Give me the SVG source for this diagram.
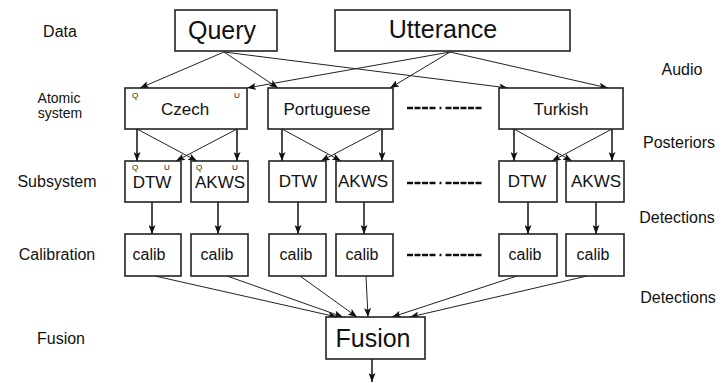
<svg xmlns="http://www.w3.org/2000/svg" width="722" height="383" viewBox="0 0 722 383">
  <defs>
    <marker id="arrow" markerUnits="userSpaceOnUse" markerWidth="9" markerHeight="7" refX="9" refY="3.5" orient="auto">
      <path d="M0,0 L9,3.5 L0,7 L2,3.5 z" fill="#111"/>
    </marker>
    <style>
      .box { fill: #fff; stroke: #222; stroke-width: 1.6; }
      .big { font-family: "Liberation Sans", Arial, sans-serif; font-size: 25px; fill: #111; text-anchor: middle; }
      .mid { font-family: "Liberation Sans", Arial, sans-serif; font-size: 17px; fill: #111; text-anchor: middle; }
      .lab { font-family: "Liberation Sans", Arial, sans-serif; font-size: 16px; fill: #111; text-anchor: middle; }
      .lab2 { font-family: "Liberation Sans", Arial, sans-serif; font-size: 14px; fill: #111; text-anchor: middle; }
      .tiny { font-family: "Liberation Sans", Arial, sans-serif; font-size: 8px; fill: #111; text-anchor: middle; }
      .edge { fill: none; stroke: #222; stroke-width: 1; marker-end: url(#arrow); }
      .vedge { fill: none; stroke: #111; stroke-width: 1.5; marker-end: url(#arrow); }
      .dots { fill: none; stroke: #111; stroke-width: 2.5; }
    </style>
  </defs>

  <!-- level labels, left -->
  <g id="row-labels">
    <text class="lab" x="60" y="37">Data</text>
    <text class="lab2" x="59" y="103">Atomic</text>
    <text class="lab2" x="60" y="118">system</text>
    <text class="lab" x="57" y="187">Subsystem</text>
    <text class="lab" x="57" y="260">Calibration</text>
    <text class="lab" x="61" y="344">Fusion</text>
  </g>

  <!-- signal labels, right -->
  <g id="signal-labels">
    <text class="lab" x="682" y="75">Audio</text>
    <text class="lab" x="679" y="148">Posteriors</text>
    <text class="lab" x="677" y="223">Detections</text>
    <text class="lab" x="678" y="303">Detections</text>
  </g>

  <!-- connectors -->
  <g id="connectors">
    <!-- data to atomic systems -->
    <line class="edge" x1="224" y1="52" x2="140" y2="88"/>
    <line class="edge" x1="224" y1="52" x2="278" y2="88"/>
    <line class="edge" x1="224" y1="52" x2="508" y2="88"/>
    <line class="edge" x1="450" y1="52" x2="247" y2="88"/>
    <line class="edge" x1="450" y1="52" x2="390" y2="88"/>
    <line class="edge" x1="450" y1="52" x2="608" y2="88"/>

    <!-- atomic systems to subsystems -->
    <line class="vedge" x1="137" y1="129" x2="137" y2="161"/>
    <line class="vedge" x1="237" y1="129" x2="237" y2="161"/>
    <line class="edge" x1="137" y1="129" x2="197" y2="161"/>
    <line class="edge" x1="237" y1="129" x2="176" y2="161"/>

    <line class="vedge" x1="282" y1="129" x2="282" y2="161"/>
    <line class="vedge" x1="382" y1="129" x2="382" y2="161"/>
    <line class="edge" x1="282" y1="129" x2="341" y2="161"/>
    <line class="edge" x1="382" y1="129" x2="321" y2="161"/>

    <line class="vedge" x1="514" y1="129" x2="514" y2="161"/>
    <line class="vedge" x1="612" y1="129" x2="612" y2="161"/>
    <line class="edge" x1="514" y1="129" x2="572" y2="161"/>
    <line class="edge" x1="612" y1="129" x2="552" y2="161"/>

    <!-- subsystems to calibration -->
    <line class="vedge" x1="152" y1="202" x2="152" y2="234"/>
    <line class="vedge" x1="218" y1="202" x2="218" y2="234"/>
    <line class="vedge" x1="298" y1="202" x2="298" y2="234"/>
    <line class="vedge" x1="364" y1="202" x2="364" y2="234"/>
    <line class="vedge" x1="528" y1="202" x2="528" y2="234"/>
    <line class="vedge" x1="596" y1="202" x2="596" y2="234"/>

    <!-- calibration to fusion -->
    <line class="edge" x1="155" y1="276" x2="337" y2="317"/>
    <line class="edge" x1="227" y1="276" x2="343" y2="317"/>
    <line class="edge" x1="300" y1="276" x2="357" y2="317"/>
    <line class="edge" x1="366" y1="276" x2="368" y2="317"/>
    <line class="edge" x1="517" y1="276" x2="392" y2="317"/>
    <line class="edge" x1="587" y1="276" x2="410" y2="317"/>

    <!-- fusion output -->
    <line class="vedge" x1="372" y1="359" x2="372" y2="382"/>

    <!-- elided languages: dash, dot, dash run -->
    <path class="dots" d="M407,108 h6 m1.5,0 h6 m1.5,0 h6 m1.5,0 h6 m4,0 h2 m4,0 h6 m1.5,0 h6 m1.5,0 h6 m1.5,0 h6 m1.5,0 h6"/>
    <path class="dots" d="M407,183 h6 m1.5,0 h6 m1.5,0 h6 m1.5,0 h6 m4,0 h2 m4,0 h6 m1.5,0 h6 m1.5,0 h6 m1.5,0 h6 m1.5,0 h6"/>
    <path class="dots" d="M407,255 h6 m1.5,0 h6 m1.5,0 h6 m1.5,0 h6 m4,0 h2 m4,0 h6 m1.5,0 h6 m1.5,0 h6 m1.5,0 h6 m1.5,0 h6"/>
  </g>

  <!-- data -->
  <g id="query">
    <rect class="box" x="175" y="10" width="102" height="41"/>
    <text class="big" x="222" y="39">Query</text>
  </g>
  <g id="utterance">
    <rect class="box" x="335" y="10" width="235" height="41"/>
    <text class="big" x="443" y="38">Utterance</text>
  </g>

  <!-- atomic systems -->
  <g id="czech">
    <rect class="box" x="125" y="88" width="122" height="41"/>
    <text class="mid" x="185" y="115">Czech</text>
    <text class="tiny" x="135" y="98">Q</text>
    <text class="tiny" x="237" y="98">U</text>
  </g>
  <g id="portuguese">
    <rect class="box" x="268" y="88" width="125" height="41"/>
    <text class="mid" x="327" y="115">Portuguese</text>
  </g>
  <g id="turkish">
    <rect class="box" x="499" y="88" width="124" height="41"/>
    <text class="mid" x="561" y="115">Turkish</text>
  </g>

  <!-- subsystems -->
  <g id="czech-dtw">
    <rect class="box" x="125" y="161" width="56" height="41"/>
    <text class="mid" x="152" y="188">DTW</text>
    <text class="tiny" x="135" y="170">Q</text>
    <text class="tiny" x="167" y="170">U</text>
  </g>
  <g id="czech-akws">
    <rect class="box" x="191" y="161" width="57" height="41"/>
    <text class="mid" x="220" y="188">AKWS</text>
    <text class="tiny" x="199" y="170">Q</text>
    <text class="tiny" x="235" y="170">U</text>
  </g>
  <g id="portuguese-dtw">
    <rect class="box" x="269" y="161" width="57" height="41"/>
    <text class="mid" x="298" y="187">DTW</text>
  </g>
  <g id="portuguese-akws">
    <rect class="box" x="336" y="161" width="57" height="41"/>
    <text class="mid" x="363" y="187">AKWS</text>
  </g>
  <g id="turkish-dtw">
    <rect class="box" x="499" y="161" width="58" height="41"/>
    <text class="mid" x="527" y="187">DTW</text>
  </g>
  <g id="turkish-akws">
    <rect class="box" x="566" y="161" width="58" height="41"/>
    <text class="mid" x="596" y="187">AKWS</text>
  </g>

  <!-- calibration -->
  <g id="czech-dtw-calib">
    <rect class="box" x="125" y="234" width="56" height="42"/>
    <text class="lab" x="149" y="260">calib</text>
  </g>
  <g id="czech-akws-calib">
    <rect class="box" x="191" y="234" width="57" height="42"/>
    <text class="lab" x="217" y="260">calib</text>
  </g>
  <g id="portuguese-dtw-calib">
    <rect class="box" x="269" y="234" width="57" height="42"/>
    <text class="lab" x="296" y="260">calib</text>
  </g>
  <g id="portuguese-akws-calib">
    <rect class="box" x="336" y="234" width="57" height="42"/>
    <text class="lab" x="362" y="260">calib</text>
  </g>
  <g id="turkish-dtw-calib">
    <rect class="box" x="499" y="234" width="58" height="42"/>
    <text class="lab" x="525" y="260">calib</text>
  </g>
  <g id="turkish-akws-calib">
    <rect class="box" x="566" y="234" width="58" height="42"/>
    <text class="lab" x="593" y="260">calib</text>
  </g>

  <!-- fusion -->
  <g id="fusion">
    <rect class="box" x="326" y="317" width="99" height="42"/>
    <text class="big" x="373" y="347">Fusion</text>
  </g>
</svg>
